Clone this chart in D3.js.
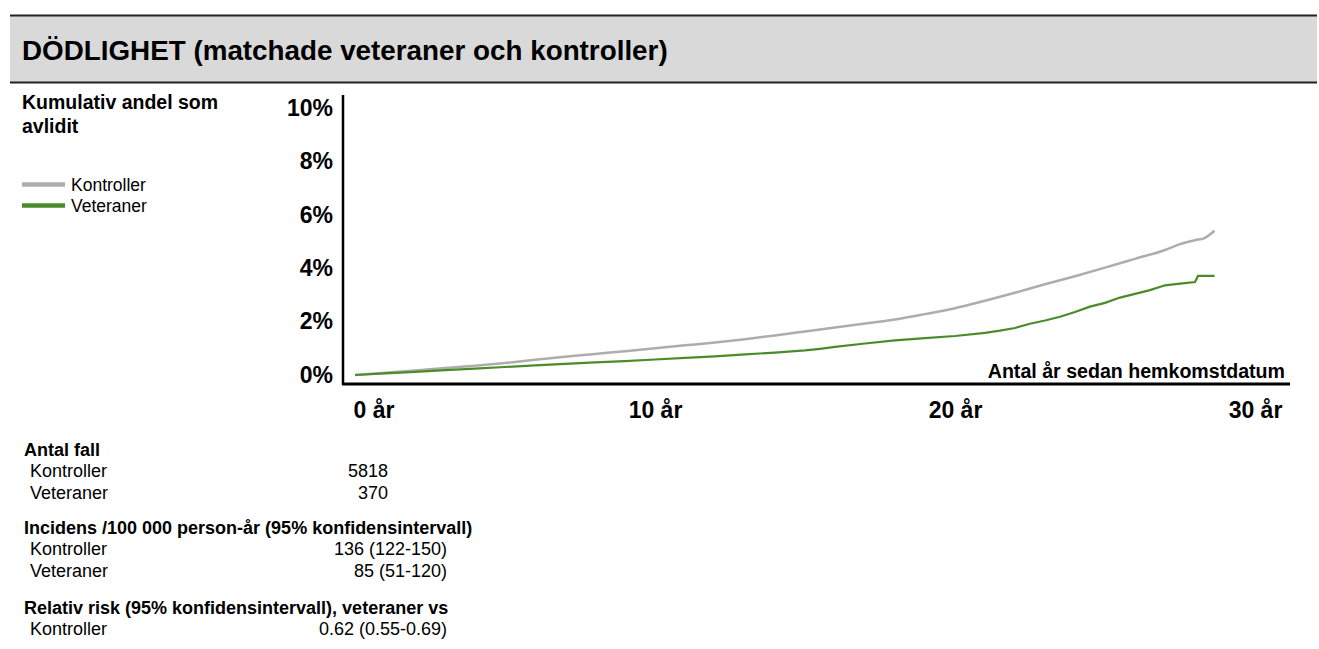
<!DOCTYPE html>
<html>
<head>
<meta charset="utf-8">
<script src="https://cdn.jsdelivr.net/npm/d3@7"></script>
<style>
  body { margin: 0; background: #fff; }
  text { font-family: "Liberation Sans", Arial, sans-serif; fill: #000; }
</style>
</head>
<body>
<script>
// Chart data
var title = "DÖDLIGHET (matchade veteraner och kontroller)";
var yTicks = [0, 2, 4, 6, 8, 10];
var xTicks = [0, 10, 20, 30];

// Kumulativ andel (%) by years since return
var kontrollerYears = [0, 1, 2, 3, 4, 5, 6, 7, 8, 9, 10, 11, 12, 13, 14, 15, 16, 17, 18, 19, 20, 21, 22, 23, 24, 25, 26, 27, 27.5, 28, 28.3, 28.65];
var kontrollerVals  = [0, 0.08, 0.17, 0.26, 0.35, 0.45, 0.57, 0.68, 0.79, 0.89, 1.0, 1.11, 1.22, 1.34, 1.48, 1.63, 1.78, 1.93, 2.08, 2.28, 2.50, 2.78, 3.08, 3.40, 3.70, 4.02, 4.35, 4.68, 4.90, 5.05, 5.12, 5.40];

var veteranerYears = [0, 1, 2, 3, 4, 5, 6, 7, 8, 9, 10, 11, 12, 13, 14, 15, 15.5, 16, 17, 18, 19, 20, 21, 21.5, 22, 22.5, 23, 23.5, 24, 24.5, 25, 25.5, 26, 26.5, 27, 27.5, 28, 28.1, 28.65];
var veteranerVals  = [0, 0.06, 0.12, 0.18, 0.24, 0.30, 0.36, 0.42, 0.47, 0.52, 0.58, 0.64, 0.70, 0.77, 0.84, 0.92, 0.98, 1.05, 1.18, 1.30, 1.38, 1.46, 1.58, 1.66, 1.76, 1.92, 2.04, 2.18, 2.36, 2.56, 2.70, 2.90, 3.04, 3.18, 3.36, 3.42, 3.48, 3.71, 3.71];

var seriesNames = ["Kontroller", "Veteraner"];
var seriesColors = ["#adadad", "#4b8b2b"];

// stats block
var statGroups = [
  { head: "Antal fall", rows: [["Kontroller", "5818"], ["Veteraner", "370"]] },
  { head: "Incidens /100 000 person-år (95% konfidensintervall)", rows: [["Kontroller", "136 (122-150)"], ["Veteraner", "85 (51-120)"]] },
  { head: "Relativ risk (95% konfidensintervall), veteraner vs", rows: [["Kontroller", "0.62 (0.55-0.69)"]] }
];

var width = 1319, height = 649;

var svg = d3.select("body").append("svg")
  .attr("width", width)
  .attr("height", height);

// header band
svg.append("rect")
  .attr("x", 10).attr("y", 16)
  .attr("width", 1307).attr("height", 66)
  .attr("fill", "#d9d9d9");
svg.append("line").attr("x1", 10).attr("x2", 1317).attr("y1", 15.5).attr("y2", 15.5)
  .attr("stroke", "#222").attr("stroke-width", 2);
svg.append("line").attr("x1", 10).attr("x2", 1317).attr("y1", 82.5).attr("y2", 82.5)
  .attr("stroke", "#222").attr("stroke-width", 2);
svg.append("text")
  .attr("x", 22).attr("y", 60)
  .style("font-size", "27.8px")
  .style("font-weight", "bold")
  .text(title);

// scales
var x = d3.scaleLinear().domain([0, 30]).range([355, 1255]);
var y = d3.scaleLinear().domain([0, 10]).range([375, 108]);

// y axis
var yAxis = svg.append("g")
  .attr("transform", "translate(343,0)")
  .call(d3.axisLeft(y).tickValues(yTicks).tickSize(0).tickPadding(10)
    .tickFormat(function(d) { return d + "%"; }));
yAxis.select(".domain").remove();
yAxis.selectAll("text")
  .style("font-size", "23px")
  .style("font-weight", "bold")
  .style("font-family", "'Liberation Sans', Arial, sans-serif");

svg.append("line")
  .attr("x1", 343).attr("x2", 343).attr("y1", 95).attr("y2", 385)
  .attr("stroke", "#000").attr("stroke-width", 2.5);

// x axis
var xAxis = svg.append("g")
  .attr("transform", "translate(0,384)")
  .call(d3.axisBottom(x).tickValues(xTicks).tickSize(0).tickPadding(18)
    .tickFormat(function(d) { return d + " år"; }));
xAxis.select(".domain").remove();
xAxis.selectAll("text")
  .style("font-size", "23px")
  .style("font-weight", "bold")
  .style("font-family", "'Liberation Sans', Arial, sans-serif");
xAxis.selectAll(".tick").filter(function(d) { return d === 0; })
  .select("text").attr("text-anchor", "start").attr("x", -2);

svg.append("line")
  .attr("x1", 342).attr("x2", 1290).attr("y1", 384).attr("y2", 384)
  .attr("stroke", "#000").attr("stroke-width", 3);

svg.append("text")
  .attr("x", 1285).attr("y", 378)
  .attr("text-anchor", "end")
  .style("font-size", "19.6px")
  .style("font-weight", "bold")
  .text("Antal år sedan hemkomstdatum");

// lines
var kontrollerData = kontrollerYears.map(function(d, i) { return [d, kontrollerVals[i]]; });
var veteranerData = veteranerYears.map(function(d, i) { return [d, veteranerVals[i]]; });

var lineSmooth = d3.line()
  .x(function(d) { return x(d[0]); })
  .y(function(d) { return y(d[1]); })
  .curve(d3.curveMonotoneX);
var lineStep = d3.line()
  .x(function(d) { return x(d[0]); })
  .y(function(d) { return y(d[1]); })
  .curve(d3.curveLinear);

svg.append("path")
  .datum(kontrollerData)
  .attr("d", lineSmooth)
  .attr("fill", "none")
  .attr("stroke", seriesColors[0])
  .attr("stroke-width", 2.5);

svg.append("path")
  .datum(veteranerData)
  .attr("d", lineStep)
  .attr("fill", "none")
  .attr("stroke", seriesColors[1])
  .attr("stroke-width", 2.2);

// left label + legend
svg.append("text").attr("x", 22).attr("y", 109)
  .style("font-size", "19.5px").style("font-weight", "bold")
  .text("Kumulativ andel som");
svg.append("text").attr("x", 22).attr("y", 133)
  .style("font-size", "19.5px").style("font-weight", "bold")
  .text("avlidit");

var legend = svg.selectAll(".legendItem")
  .data(seriesNames)
  .enter().append("g")
  .attr("class", "legendItem")
  .attr("transform", function(d, i) { return "translate(22," + (184.5 + i * 21) + ")"; });
legend.append("line")
  .attr("x1", 0).attr("x2", 43)
  .attr("stroke", function(d, i) { return seriesColors[i]; })
  .attr("stroke-width", 4.5);
legend.append("text")
  .attr("x", 49).attr("y", 6)
  .style("font-size", "17.5px")
  .text(function(d) { return d; });

// stats block
var statY = [456, 534, 614];
statGroups.forEach(function(g, gi) {
  var gy = statY[gi];
  svg.append("text").attr("x", 24).attr("y", gy)
    .style("font-size", "18px").style("font-weight", "bold")
    .text(g.head);
  g.rows.forEach(function(r, ri) {
    var ry = gy + 21 + ri * 22;
    svg.append("text").attr("x", 30).attr("y", ry)
      .style("font-size", "18px").text(r[0]);
    svg.append("text").attr("x", gi === 0 ? 388 : 447).attr("y", ry)
      .attr("text-anchor", "end")
      .style("font-size", "18px").text(r[1]);
  });
});
</script>
</body>
</html>
